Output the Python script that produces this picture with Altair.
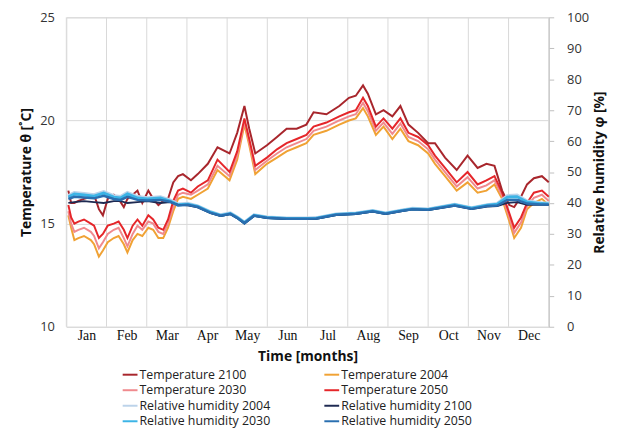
import altair as alt
import pandas as pd

# ---- data (x in months, 0 = start of Jan, 12 = end of Dec) ----
months = ["Jan", "Feb", "Mar", "Apr", "May", "Jun", "Jul", "Aug", "Sep", "Oct", "Nov", "Dec"]
month_bounds = [0, 1, 2, 3, 4, 5, 6, 7, 8, 9, 10, 11, 12]

pos_T = [0.05, 0.12, 0.2, 0.3, 0.44, 0.61, 0.69, 0.81, 0.91, 1.03, 1.18, 1.3, 1.43, 1.52, 1.65, 1.77,
         1.89, 2.04, 2.16, 2.29, 2.41, 2.53, 2.66, 2.78, 2.9, 3.1, 3.27, 3.52, 3.76, 4.06, 4.25, 4.43,
         4.55, 4.7, 4.99, 5.24, 5.48, 5.73, 5.97, 6.15, 6.47, 6.79, 7.03, 7.2, 7.38, 7.5, 7.7, 7.89,
         8.11, 8.31, 8.51, 8.75, 9.0, 9.17, 9.42, 9.71, 9.98, 10.23, 10.45, 10.65, 10.84, 11.02, 11.14,
         11.31, 11.46, 11.63, 11.83, 12.0]

temp_2004 = [15.4, 14.8, 14.2, 14.3, 14.4, 14.2, 14.0, 13.4, 13.7, 14.1, 14.3, 14.4, 14.0, 13.6, 14.2, 14.5,
             14.4, 14.8, 14.7, 14.3, 14.3, 14.8, 15.6, 16.2, 16.3, 16.2, 16.4, 16.7, 17.6, 17.1, 18.1, 19.8,
             18.8, 17.4, 17.9, 18.2, 18.5, 18.7, 18.9, 19.3, 19.5, 19.8, 20.0, 20.1, 20.6, 20.2, 19.3, 19.7,
             19.1, 19.6, 19.0, 18.8, 18.4, 17.9, 17.3, 16.6, 17.0, 16.5, 16.6, 16.9, 16.2, 15.1, 14.3,
             14.8, 15.7, 16.0, 16.2, 15.9]
temp_2030 = [15.6, 15.0, 14.6, 14.7, 14.8, 14.6, 14.4, 13.8, 14.1, 14.5, 14.7, 14.8, 14.3, 13.9, 14.5, 14.9,
             14.7, 15.1, 15.0, 14.6, 14.5, 15.0, 15.8, 16.4, 16.5, 16.4, 16.6, 16.9, 17.8, 17.3, 18.3, 19.95,
             18.95, 17.6, 18.05, 18.4, 18.7, 18.9, 19.1, 19.5, 19.7, 20.0, 20.2, 20.3, 20.85, 20.45, 19.5, 19.9,
             19.35, 19.85, 19.2, 19.0, 18.6, 18.1, 17.5, 16.8, 17.25, 16.7, 16.85, 17.1, 16.35, 15.3, 14.55,
             15.05, 15.85, 16.25, 16.4, 16.1]
temp_2050 = [15.9, 15.3, 15.0, 15.1, 15.2, 15.0, 14.9, 14.3, 14.5, 14.9, 15.0, 15.1, 14.7, 14.3, 14.9, 15.2,
             14.9, 15.4, 15.2, 14.8, 14.7, 15.2, 16.1, 16.6, 16.7, 16.5, 16.8, 17.1, 18.1, 17.5, 18.5, 20.1,
             19.1, 17.8, 18.2, 18.6, 18.9, 19.1, 19.3, 19.7, 19.9, 20.2, 20.4, 20.5, 21.1, 20.7, 19.7, 20.1,
             19.6, 20.1, 19.4, 19.2, 18.8, 18.3, 17.7, 17.0, 17.5, 16.9, 17.1, 17.3, 16.5, 15.5, 14.8,
             15.3, 16.0, 16.5, 16.6, 16.3]
temp_2100 = [16.6, 16.0, 16.0, 16.1, 16.2, 16.3, 16.4, 15.7, 15.4, 16.2, 16.4, 16.2, 15.8, 16.2, 16.4, 16.6,
             16.0, 16.6, 16.2, 15.9, 16.1, 16.2, 17.0, 17.3, 17.4, 17.1, 17.4, 17.9, 18.7, 18.4, 19.4, 20.7,
             19.6, 18.4, 18.8, 19.2, 19.6, 19.6, 19.8, 20.4, 20.3, 20.7, 21.1, 21.2, 21.7, 21.3, 20.3, 20.5,
             20.2, 20.7, 19.8, 19.4, 18.9, 18.9, 18.2, 17.6, 18.3, 17.7, 17.9, 17.8, 16.6, 15.9, 15.8,
             16.3, 16.9, 17.2, 17.3, 17.0]

pos_H = [0.05, 0.2, 0.44, 0.69, 0.93, 1.18, 1.35, 1.52, 1.77, 2.02, 2.34, 2.58, 2.78, 3.02, 3.27, 3.59,
         3.84, 4.08, 4.25, 4.43, 4.67, 4.99, 5.48, 5.97, 6.22, 6.71, 7.2, 7.62, 7.94, 8.36, 8.61, 9.0,
         9.66, 10.08, 10.47, 10.72, 10.97, 11.21, 11.46, 11.8, 12.0]
rh_2004 = [42.3, 43.3, 43.0, 42.6, 43.6, 42.3, 42.0, 43.3, 42.0, 41.6, 41.9, 40.9, 39.6, 39.8, 39.0, 37.1,
           36.1, 36.7, 35.4, 33.7, 36.1, 35.4, 35.1, 35.1, 35.2, 36.4, 36.7, 37.5, 36.7, 37.7, 38.2, 38.0,
           39.5, 38.4, 39.4, 39.8, 42.3, 42.5, 40.6, 40.0, 39.9]
rh_2030 = [41.9, 42.9, 42.6, 42.2, 43.2, 41.9, 41.6, 42.9, 41.6, 41.3, 41.6, 40.6, 39.4, 39.6, 38.9, 37.0,
           36.0, 36.6, 35.3, 33.6, 36.0, 35.3, 35.0, 35.0, 35.1, 36.3, 36.6, 37.4, 36.6, 37.6, 38.1, 37.9,
           39.4, 38.3, 39.3, 39.6, 41.9, 42.0, 40.3, 39.8, 39.7]
rh_2050 = [41.3, 42.0, 41.8, 41.5, 42.3, 41.3, 41.0, 42.0, 41.0, 40.8, 41.0, 40.4, 39.2, 39.4, 38.7, 36.8,
           35.9, 36.5, 35.2, 33.5, 35.9, 35.2, 34.9, 34.9, 35.0, 36.2, 36.5, 37.3, 36.5, 37.5, 38.0, 37.8,
           39.2, 38.1, 39.0, 39.2, 41.0, 41.0, 39.8, 39.5, 39.5]
rh_2100 = [40.0, 40.3, 40.6, 40.3, 40.0, 40.6, 40.6, 40.0, 40.3, 40.6, 40.0, 40.3, 39.4, 39.2, 38.6, 36.7,
           35.8, 36.4, 35.1, 33.3, 35.8, 35.1, 34.8, 34.8, 34.9, 36.1, 36.4, 37.2, 36.4, 37.4, 37.9, 37.7,
           39.1, 38.0, 38.8, 39.0, 40.0, 40.3, 39.4, 39.4, 39.4]

# legend fills column by column: this order gives the reference's row layout
series_order = ["Temperature 2100", "Temperature 2030", "Relative humidity 2004", "Relative humidity 2030",
                "Temperature 2004", "Temperature 2050", "Relative humidity 2100", "Relative humidity 2050"]
series_colors = ["#A8262C", "#F08A8E", "#BCD3EA", "#3CB4E6",
                 "#F0A234", "#E5262A", "#1E2A52", "#2A6FB0"]


def long_df(pos, pairs):
    rows = []
    for name, vals in pairs:
        for m, v in zip(pos, vals):
            rows.append({"month": m, "value": v, "series": name})
    return pd.DataFrame(rows)


bounds_df = pd.DataFrame({"month": month_bounds})

x_scale = alt.Scale(domain=[0, 12], nice=False)
color_scale = alt.Scale(domain=series_order, range=series_colors)
legend = alt.Legend(
    title=None, orient="none", legendX=56, legendY=353, columns=2,
    symbolType="stroke", symbolSize=225, symbolStrokeWidth=2,
    labelFont="Open Sans", labelFontSize=12.5, labelColor="#222222",
    rowPadding=0.7, columnPadding=50, labelOffset=1, labelLimit=300,
)

month_label_expr = "['Jan','Feb','Mar','Apr','May','Jun','Jul','Aug','Sep','Oct','Nov','Dec'][floor(datum.value)]"
x_axis = alt.Axis(
    values=[i + 0.5 for i in range(12)], labelExpr=month_label_expr,
    grid=False, ticks=False, domain=False,
    labelFont="Liberation Serif", labelFontSize=14, labelColor="#111111", labelPadding=2,
    title="Time [months]", titleFont="Open Sans", titleFontSize=14, titleFontWeight="bold",
    titleColor="#111111", titlePadding=7,
)
X = alt.X("month:Q", scale=x_scale, axis=x_axis)

rules = alt.Chart(bounds_df).mark_rule(color="#D9D9D9", strokeWidth=1).encode(x=X)

temp_y = alt.Y("value:Q", scale=alt.Scale(domain=[10, 25], nice=False),
               axis=alt.Axis(orient="left", values=[10, 15, 20, 25], grid=True, gridColor="#D9D9D9",
                             ticks=False, domain=False, labelFont="Open Sans", labelFontSize=13,
                             labelColor="#333333", labelPadding=12,
                             title="Temperature θ [˚C]", titleFont="Open Sans", titleFontSize=14,
                             titleFontWeight="bold", titleColor="#111111", titlePadding=6))
hum_y = alt.Y("value:Q", scale=alt.Scale(domain=[0, 100], nice=False),
              axis=alt.Axis(orient="right", values=list(range(0, 101, 10)), grid=False,
                            ticks=True, tickSize=5, tickColor="#BFBFBF", domain=True, domainColor="#BFBFBF",
                            labelFont="Open Sans", labelFontSize=13, labelColor="#333333", labelPadding=13,
                            title="Relative humidity φ [%]", titleFont="Open Sans", titleFontSize=14,
                            titleFontWeight="bold", titleColor="#111111", titlePadding=18, titleAngle=270))
C = alt.Color("series:N", scale=color_scale, legend=legend)


def temp_line(name, vals):
    return alt.Chart(long_df(pos_T, [(name, vals)])).mark_line(strokeWidth=2).encode(x=X, y=temp_y, color=C)


def hum_line(name, vals, w):
    return alt.Chart(long_df(pos_H, [(name, vals)])).mark_line(strokeWidth=w).encode(x=X, y=hum_y, color=C)


temp = alt.layer(
    temp_line("Temperature 2004", temp_2004),
    temp_line("Temperature 2030", temp_2030),
    temp_line("Temperature 2050", temp_2050),
    temp_line("Temperature 2100", temp_2100),
)
hum = alt.layer(
    hum_line("Relative humidity 2004", rh_2004, 3.5),
    hum_line("Relative humidity 2030", rh_2030, 3),
    hum_line("Relative humidity 2100", rh_2100, 1.8),
    hum_line("Relative humidity 2050", rh_2050, 2.5),
)

chart = alt.layer(rules, temp, hum).resolve_scale(y="independent").properties(
    width=488, height=313,
    autosize=alt.AutoSizeParams(type="none"),
    padding={"left": 59, "top": 7, "right": 66, "bottom": 102},
).configure_view(stroke=None).configure(background="white")

chart.save("out.html", embed_options={"renderer": "svg", "actions": False})
